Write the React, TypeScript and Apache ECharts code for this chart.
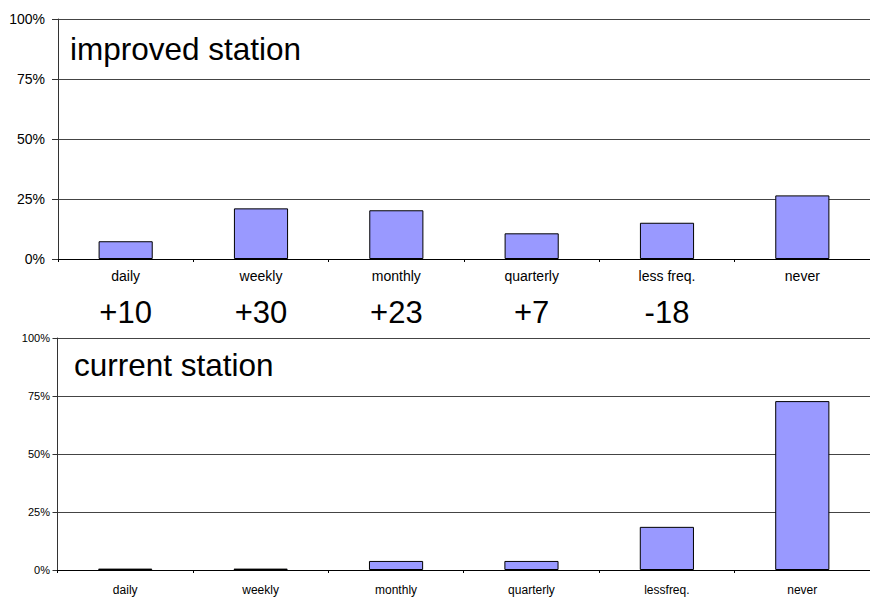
import React, { useEffect, useRef } from "react";
import * as echarts from "echarts";

const categories = ["daily", "weekly", "monthly", "quarterly", "less freq.", "never"];
const bottomCategories = ["daily", "weekly", "monthly", "quarterly", "lessfreq.", "never"];
const improvedValues = [7.4, 21.1, 20.3, 10.7, 15.1, 26.5];
const currentValues = [0.6, 0.6, 3.9, 3.9, 18.6, 72.8];
const deltaLabels = ["+10", "+30", "+23", "+7", "-18", ""];
const yTicks = [0, 25, 50, 75, 100];
const topTitle = "improved station";
const bottomTitle = "current station";

const FONT = "'Liberation Sans', Arial, sans-serif";
const BAR = "#9999FF";

export default function App() {
  const ref = useRef<HTMLDivElement>(null);
  useEffect(() => {
    if (!ref.current) return;
    const chart = echarts.init(ref.current, undefined, { renderer: "svg" });
    const yAxisBase = (fontSize: number, margin: number, tickLen: number) => ({
      type: "value",
      min: yTicks[0],
      max: yTicks[yTicks.length - 1],
      interval: 25,
      axisLine: { show: true, lineStyle: { color: "#333", width: 1 } },
      axisTick: { show: true, length: tickLen, lineStyle: { color: "#333" } },
      axisLabel: {
        formatter: "{value}%",
        color: "#000",
        fontFamily: FONT,
        fontSize,
        margin,
      },
      splitLine: { show: true, lineStyle: { color: "#444", width: 1 } },
    });
    chart.setOption({
      animation: false,
      backgroundColor: "#fff",
      textStyle: { fontFamily: FONT },
      grid: [
        { left: 58, top: 19, width: 818, height: 240, containLabel: false },
        { left: 57.5, top: 338, width: 813, height: 232, containLabel: false },
      ],
      xAxis: [
        {
          type: "category",
          gridIndex: 0,
          data: categories,
          axisLine: { show: true, lineStyle: { color: "#000" } },
          axisTick: { show: true, length: 3, lineStyle: { color: "#000" } },
          axisLabel: { color: "#000", fontFamily: FONT, fontSize: 14, margin: 10, interval: 0 },
        },
        {
          type: "category",
          gridIndex: 0,
          position: "bottom",
          data: categories,
          axisLine: { show: false },
          axisTick: { show: false },
          splitLine: { show: false },
          axisLabel: {
            color: "#000",
            fontFamily: FONT,
            fontSize: 31,
            margin: 38,
            interval: 0,
            formatter: (_v: string, i: number) => deltaLabels[i] ?? "",
          },
        },
        {
          type: "category",
          gridIndex: 1,
          data: bottomCategories,
          axisLine: { show: true, lineStyle: { color: "#000" } },
          axisTick: { show: true, length: 3, lineStyle: { color: "#000" } },
          axisLabel: { color: "#000", fontFamily: FONT, fontSize: 12, margin: 14, interval: 0 },
        },
      ],
      yAxis: [
        { ...yAxisBase(14, 13, 6), gridIndex: 0 },
        { ...yAxisBase(11, 7.5, 5), gridIndex: 1 },
      ],
      series: [
        {
          type: "bar",
          xAxisIndex: 0,
          yAxisIndex: 0,
          data: improvedValues,
          barWidth: "40%",
          itemStyle: { color: BAR, borderColor: "#000", borderWidth: 1 },
        },
        {
          type: "bar",
          xAxisIndex: 2,
          yAxisIndex: 1,
          data: currentValues,
          barWidth: "40%",
          itemStyle: { color: BAR, borderColor: "#000", borderWidth: 1 },
        },
      ],
      graphic: [
        {
          type: "text",
          left: 70,
          top: 33,
          style: { text: topTitle, fontFamily: FONT, fontSize: 31.5, fill: "#000" },
        },
        {
          type: "text",
          left: 74,
          top: 349,
          style: { text: bottomTitle, fontFamily: FONT, fontSize: 31.5, fill: "#000" },
        },
      ],
    });
    return () => chart.dispose();
  }, []);
  return (
    <div
      ref={ref}
      style={{ position: "absolute", left: 0, top: 0, width: 870, height: 599, background: "#fff" }}
    />
  );
}
